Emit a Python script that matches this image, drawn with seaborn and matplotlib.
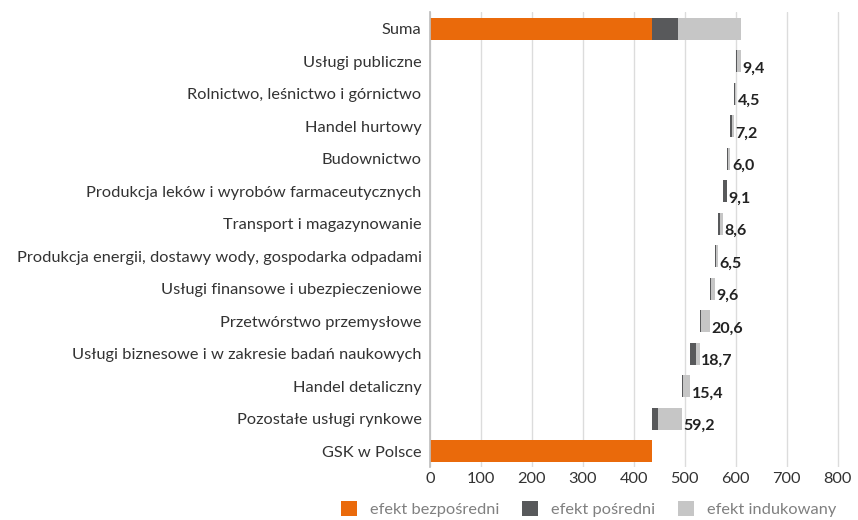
import numpy as np
import pandas as pd
import matplotlib
matplotlib.use("Agg")
import matplotlib.pyplot as plt
from matplotlib.patches import Patch
import seaborn as sns

# categories from top to bottom
categories = [
    "Suma",
    "Usługi publiczne",
    "Rolnictwo, leśnictwo i górnictwo",
    "Handel hurtowy",
    "Budownictwo",
    "Produkcja leków i wyrobów farmaceutycznych",
    "Transport i magazynowanie",
    "Produkcja energii, dostawy wody, gospodarka odpadami",
    "Usługi finansowe i ubezpieczeniowe",
    "Przetwórstwo przemysłowe",
    "Usługi biznesowe i w zakresie badań naukowych",
    "Handel detaliczny",
    "Pozostałe usługi rynkowe",
    "GSK w Polsce",
]
# sector labels (total of indirect + induced), top to bottom, without Suma / GSK
sector_labels = [9.4, 4.5, 7.2, 6.0, 9.1, 8.6, 6.5, 9.6, 20.6, 18.7, 15.4, 59.2]
# split of each sector into indirect (dark) and induced (light), estimated
sector_indirect = [2.0, 2.0, 2.5, 1.0, 8.6, 3.0, 1.5, 1.5, 3.0, 12.0, 2.5, 11.5]
sector_induced = [7.4, 2.5, 4.7, 5.0, 0.5, 5.6, 5.0, 8.1, 17.6, 6.7, 12.9, 47.7]
gsk_direct = 436.0

legend_labels = ["efekt bezpośredni", "efekt pośredni", "efekt indukowany"]
colors = ["#EA6A0B", "#58595B", "#C6C6C6"]

# waterfall: the sectors stack from the bottom (GSK) upwards
ind = np.array(sector_indirect)
indc = np.array(sector_induced)
bottom_up = (ind + indc)[::-1]
starts_bu = gsk_direct + np.concatenate([[0], np.cumsum(bottom_up)[:-1]])
sector_starts = starts_bu[::-1]

direct = np.array([gsk_direct] + [0.0] * 12 + [gsk_direct])
indirect = np.concatenate([[ind.sum()], ind, [0.0]])
induced = np.concatenate([[indc.sum()], indc, [0.0]])
start = np.concatenate([[0.0], sector_starts, [0.0]])

df = pd.DataFrame({"cat": categories, "direct": direct, "indirect": indirect,
                   "induced": induced, "start": start})

sns.set_theme(style="white")
plt.rcParams["font.family"] = ["Lato", "DejaVu Sans"]

fig, ax = plt.subplots(figsize=(8.58, 5.2), dpi=100)
fig.subplots_adjust(left=0.501, right=0.988, top=0.976, bottom=0.101)

ax.grid(axis="x", color="#DCDCDC", linewidth=1)
ax.set_axisbelow(True)

left_direct = df["start"].values
left_indirect = left_direct + df["direct"].values
left_induced = left_indirect + df["indirect"].values
bar_kw = dict(y="cat", order=categories, saturation=1, width=0.67,
              errorbar=None, linewidth=0, edgecolor="none", ax=ax)
sns.barplot(data=df, x="direct", color=colors[0], left=left_direct, **bar_kw)
sns.barplot(data=df, x="indirect", color=colors[1], left=left_indirect, **bar_kw)
sns.barplot(data=df, x="induced", color=colors[2], left=left_induced, **bar_kw)

ends = left_induced + df["induced"].values
for i, lab in enumerate(sector_labels, start=1):
    ax.text(ends[i] + 3, i + 0.22, f"{lab:.1f}".replace(".", ","),
            ha="left", va="center", fontsize=11.5, fontweight="bold", color="#222222")

ax.set_xlim(0, 820)
ax.set_ylim(13.5, -0.5)
ax.set_xticks(range(0, 801, 100))
ax.set_xlabel("")
ax.set_ylabel("")
for s in ["top", "right", "bottom"]:
    ax.spines[s].set_visible(False)
ax.spines["left"].set_color("#BFBFBF")
ax.tick_params(axis="both", length=0, labelsize=11.8, colors="#333333")
ax.tick_params(axis="y", pad=6)

handles = [Patch(facecolor=c, edgecolor="none") for c in colors]
fig.legend(handles, legend_labels, loc="center", bbox_to_anchor=(0.686, 0.021),
           ncol=3, frameon=False, fontsize=11.8, labelcolor="#808080",
           handlelength=1.0, handleheight=1.0, columnspacing=1.35, handletextpad=0.8)

fig.savefig("out.png", dpi=100)
